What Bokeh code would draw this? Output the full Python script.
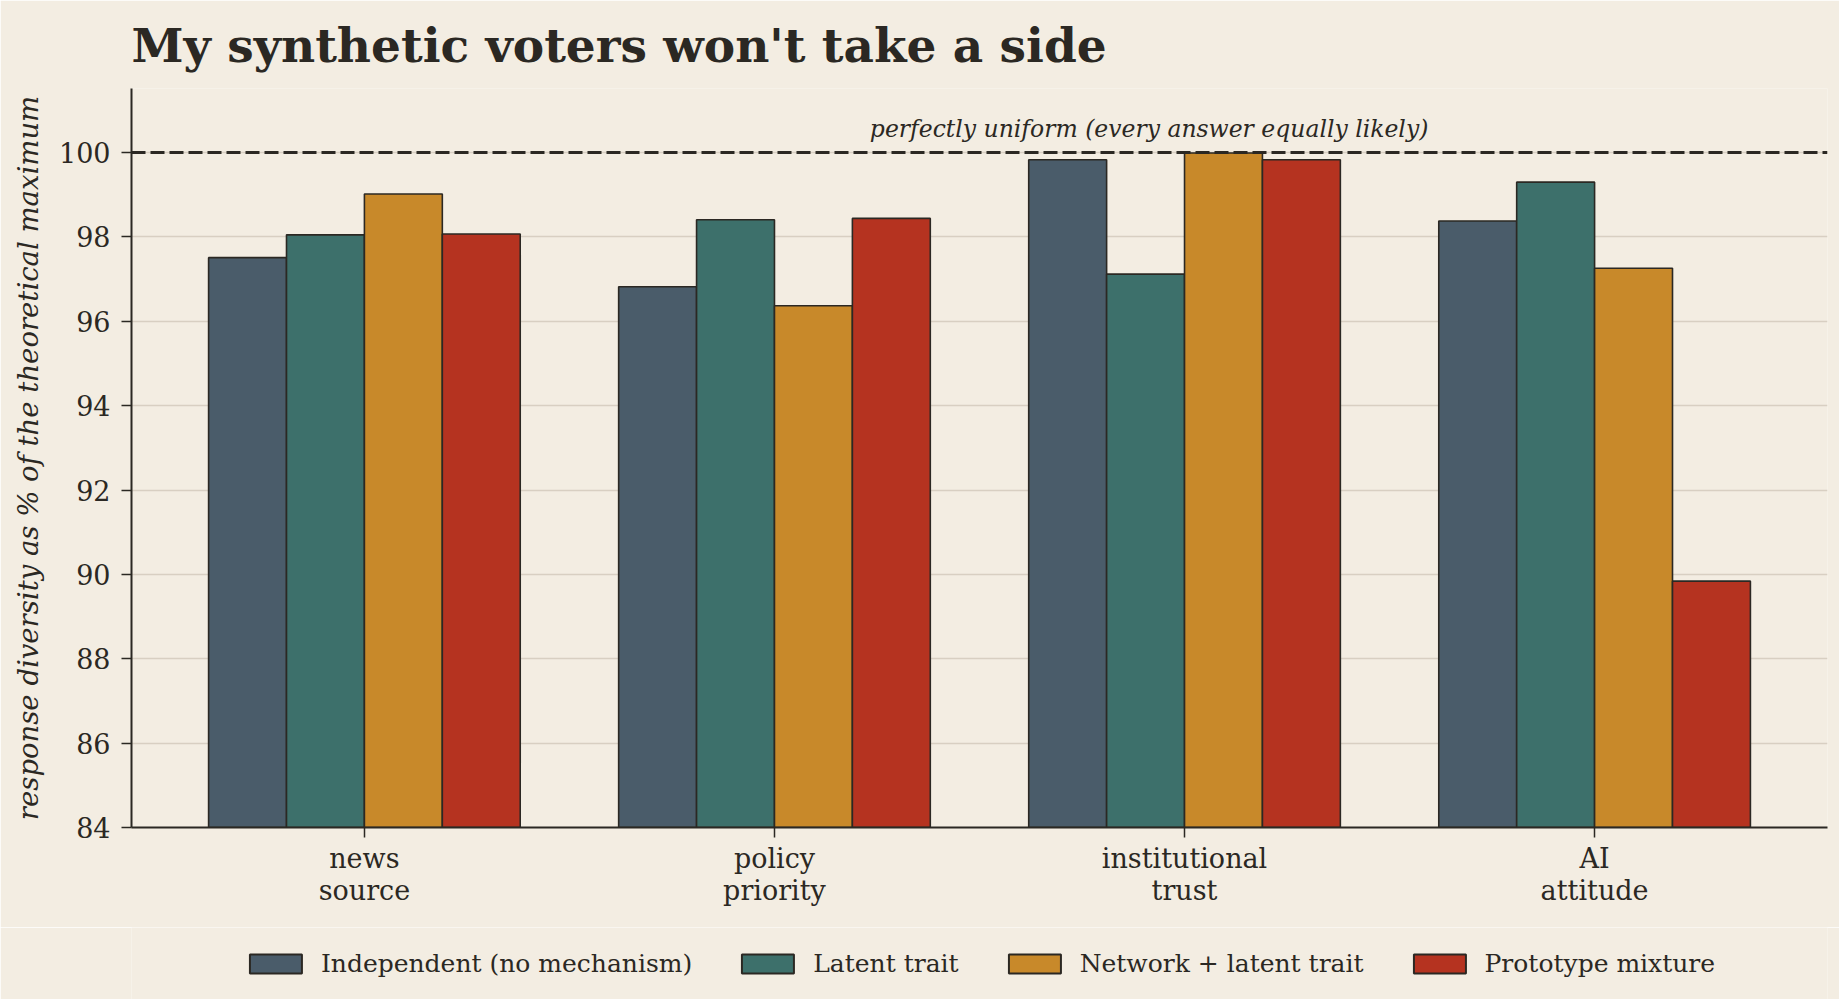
from bokeh.plotting import figure
from bokeh.layouts import column
from bokeh.models import Range1d, FixedTicker, Span, Label, Legend, LegendItem
from bokeh.embed import file_html
from bokeh.resources import INLINE

# ---- data ----
categories = ["news\nsource", "policy\npriority", "institutional\ntrust", "AI\nattitude"]
series_names = ["Independent (no mechanism)", "Latent trait", "Network + latent trait", "Prototype mixture"]
independent = [97.51, 96.82, 99.83, 98.38]
latent = [98.05, 98.41, 97.12, 99.30]
network = [99.02, 96.37, 99.99, 97.26]
prototype = [98.07, 98.44, 99.83, 89.84]
y_ticks = [84, 86, 88, 90, 92, 94, 96, 98, 100]
uniform_level = 100

# ---- style ----
BG = "#f3ede2"
INK = "#2b2823"
GRID = "#d8cfc2"
colors = ["#4a5c6a", "#3d706b", "#c8892a", "#b53320"]
FONT = "DejaVu Serif"

n = len(categories)
xpos = list(range(n))
bar_w = 0.19
offsets = [-1.5 * bar_w, -0.5 * bar_w, 0.5 * bar_w, 1.5 * bar_w]
all_series = [independent, latent, network, prototype]

p = figure(frame_width=1696, frame_height=739,
           x_range=Range1d(-0.568, n - 1 + 0.568),
           y_range=Range1d(84, 101.52),
           output_backend="svg", toolbar_location=None,
           background_fill_color=BG, border_fill_color=BG,
           min_border_left=131, min_border_right=12,
           min_border_top=88, min_border_bottom=100,
           outline_line_color=None)

# title
p.title.text = "My synthetic voters won't take a side"
p.title.text_font = FONT
p.title.text_font_style = "bold"
p.title.text_font_size = "47px"
p.title.text_color = INK
p.title.align = "left"
p.title.standoff = 31

# grid
p.xgrid.grid_line_color = None
p.ygrid.grid_line_color = GRID
p.ygrid.grid_line_width = 1.5
p.ygrid.ticker = FixedTicker(ticks=y_ticks)

# axes
p.yaxis.ticker = FixedTicker(ticks=y_ticks)
p.xaxis.ticker = FixedTicker(ticks=xpos)
p.xaxis.major_label_overrides = {i: c for i, c in enumerate(categories)}
for ax in (p.xaxis[0], p.yaxis[0]):
    ax.axis_line_color = INK
    ax.axis_line_width = 2
    ax.major_tick_line_color = INK
    ax.major_tick_line_width = 1.5
    ax.major_tick_out = 10
    ax.major_tick_in = 0
    ax.minor_tick_line_color = None
    ax.major_label_text_font = FONT
    ax.major_label_text_font_size = "27px"
    ax.major_label_text_color = INK
    ax.major_label_standoff = 11
p.xaxis.major_label_text_line_height = 1.05
p.xaxis.major_label_standoff = 5
p.yaxis.axis_label = "response diversity as % of the theoretical maximum"
p.yaxis.axis_label_text_font = FONT
p.yaxis.axis_label_text_font_style = "italic"
p.yaxis.axis_label_text_font_size = "27.5px"
p.yaxis.axis_label_text_color = INK
p.yaxis.axis_label_standoff = 12

# bars
for i, vals in enumerate(all_series):
    p.vbar(x=[x + offsets[i] for x in xpos], top=vals, bottom=y_ticks[0],
           width=bar_w, fill_color=colors[i], line_color=INK, line_width=1.6)

# uniform line
p.add_layout(Span(location=uniform_level, dimension="width", line_color=INK,
                  line_width=3, line_dash="14 5"))
xr = p.x_range
p.add_layout(Label(x=xr.start + 0.6 * (xr.end - xr.start), y=uniform_level,
                   text="perfectly uniform (every answer equally likely)",
                   text_align="center", text_baseline="alphabetic", y_offset=24,
                   text_font=FONT, text_font_style="italic",
                   text_font_size="23.5px", text_color=INK))

# legend strip (separate panel below the chart); its swatch renderers
# carry the same series but are hidden, only their legend glyphs show
leg = figure(frame_width=1696, frame_height=72,
             x_range=Range1d(-0.568, n - 1 + 0.568), y_range=Range1d(84, 101.52),
             output_backend="svg", toolbar_location=None,
             x_axis_type=None, y_axis_type=None,
             background_fill_color=BG, border_fill_color=BG,
             min_border_left=128, min_border_right=15,
             min_border_top=0, min_border_bottom=0,
             outline_line_color=None)
leg.grid.visible = False
swatches = [leg.vbar(x=[x + offsets[i] for x in xpos], top=all_series[i], bottom=y_ticks[0],
                     width=bar_w, fill_color=colors[i], line_color=INK, line_width=2,
                     visible=False)
            for i in range(4)]
legend = Legend(items=[LegendItem(label=series_names[i], renderers=[swatches[i]]) for i in range(4)],
                orientation="horizontal", location="center",
                glyph_width=65, glyph_height=24, label_standoff=13, spacing=43,
                label_text_font=FONT, label_text_font_size="25px", label_text_color=INK,
                border_line_color=None, background_fill_alpha=0, margin=0, padding=10,
                inactive_fill_alpha=0)
leg.add_layout(legend)

layout = column(p, leg, spacing=0)
open("out.html", "w").write(file_html(layout, INLINE))
